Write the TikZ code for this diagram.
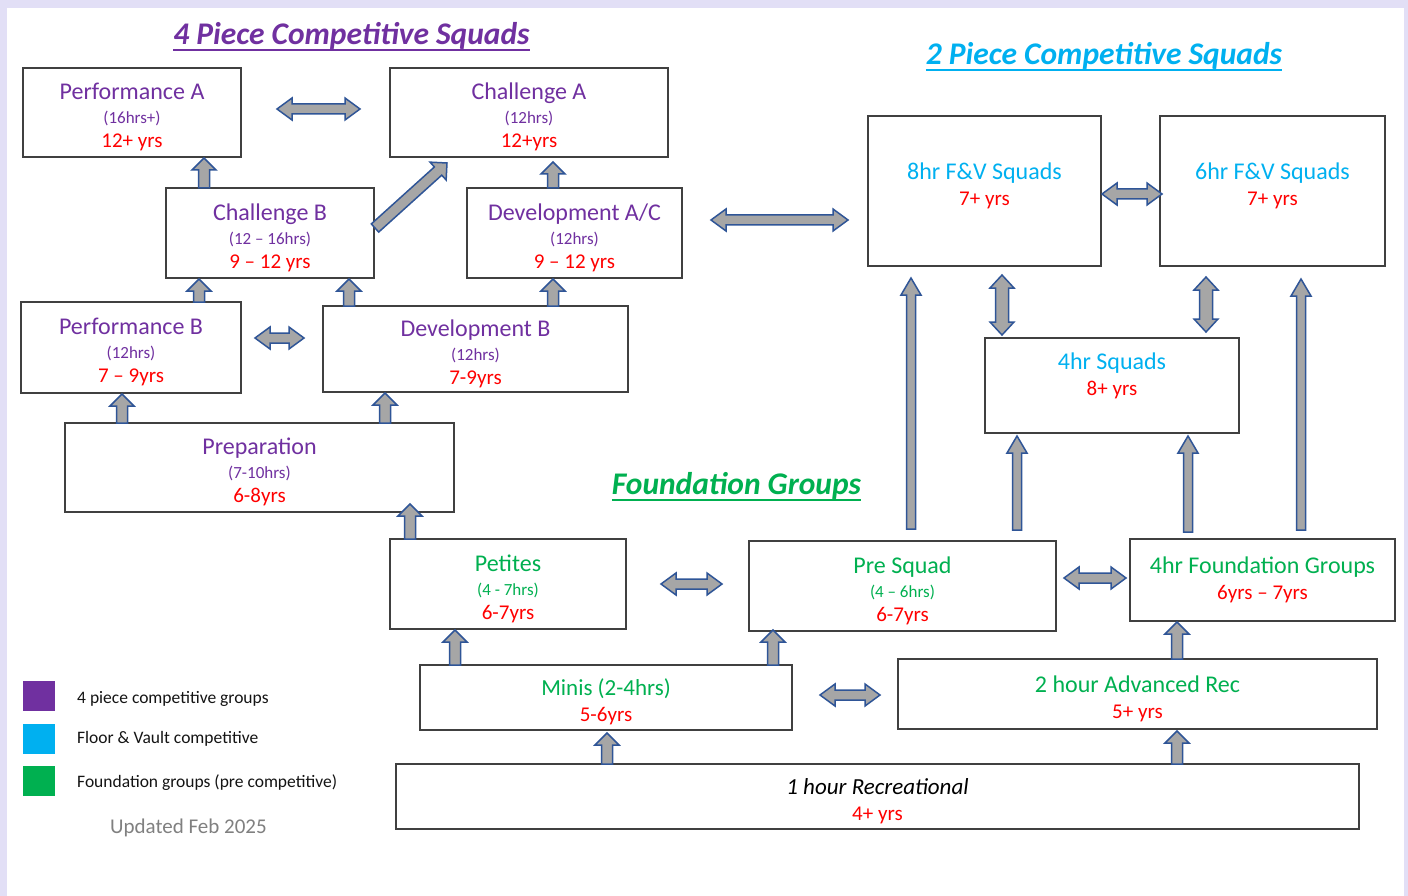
\documentclass[tikz,border=0pt]{standalone}
\usepackage{fontspec}
\setmainfont{Carlito}
\usetikzlibrary{calc}
\definecolor{pur}{RGB}{112,48,160}
\definecolor{fvblue}{RGB}{0,176,240}
\definecolor{fgreen}{RGB}{0,176,80}
\definecolor{agered}{RGB}{255,0,0}
\definecolor{arrfill}{RGB}{166,166,166}
\definecolor{arrline}{RGB}{47,85,151}
\definecolor{boxline}{RGB}{64,64,64}
\definecolor{lav}{RGB}{226,223,246}
\definecolor{updgray}{RGB}{128,128,128}
\definecolor{legtext}{RGB}{20,20,20}

\newcommand\ttl[1]{{\fontsize{24}{24}\selectfont\rule{0pt}{26pt}#1}}
\newcommand\ttlp[1]{{\fontsize{24}{24}\selectfont #1}}
\newcommand\hrs[1]{{\fontsize{17}{24}\selectfont #1}}
\newcommand\age[1]{{\fontsize{21}{24}\selectfont\color{agered}#1}}

% single block arrow: from, to, half shaft, half head, head length
\newcommand\sarr[5]{%
  \draw[blkarrow] let \p1=#1, \p2=#2, \n1={veclen(\x2-\x1,\y2-\y1)}, \n2={atan2(\y2-\y1,\x2-\x1)} in
    ($(\p1)+(\n2+90:#3)$) -- ($(\p1)+(\n2:\n1-#5)+(\n2+90:#3)$) -- ($(\p1)+(\n2:\n1-#5)+(\n2+90:#4)$) -- (\p2)
    -- ($(\p1)+(\n2:\n1-#5)+(\n2-90:#4)$) -- ($(\p1)+(\n2:\n1-#5)+(\n2-90:#3)$) -- ($(\p1)+(\n2-90:#3)$) -- cycle;}
% double block arrow
\newcommand\darr[5]{%
  \draw[blkarrow] let \p1=#1, \p2=#2, \n1={veclen(\x2-\x1,\y2-\y1)}, \n2={atan2(\y2-\y1,\x2-\x1)} in
    (\p1) -- ($(\p1)+(\n2:#5)+(\n2+90:#4)$) -- ($(\p1)+(\n2:#5)+(\n2+90:#3)$) -- ($(\p1)+(\n2:\n1-#5)+(\n2+90:#3)$)
    -- ($(\p1)+(\n2:\n1-#5)+(\n2+90:#4)$) -- (\p2) -- ($(\p1)+(\n2:\n1-#5)+(\n2-90:#4)$) -- ($(\p1)+(\n2:\n1-#5)+(\n2-90:#3)$)
    -- ($(\p1)+(\n2:#5)+(\n2-90:#3)$) -- ($(\p1)+(\n2:#5)+(\n2-90:#4)$) -- cycle;}
\newcommand\Sarr[2]{\sarr{#1}{#2}{5.5}{12}{12}}
\newcommand\Larr[2]{\sarr{#1}{#2}{4.5}{10}{17}}
\newcommand\Darr[2]{\darr{#1}{#2}{5}{11}{15}}
\newcommand\Varr[2]{\darr{#1}{#2}{6.5}{12}{13}}

\tikzset{
  box/.style={draw=boxline, line width=1.3pt, fill=white, inner sep=0pt, outer sep=0pt,
    align=center, font=\fontsize{21}{24}\selectfont},
  boxtwo/.style={box, font=\fontsize{21}{26}\selectfont},
  blkarrow/.style={fill=arrfill, draw=arrline, line width=1.5pt, line join=miter},
  sqtitle/.style={font=\fontsize{31.5}{33}\selectfont\bfseries\itshape, inner sep=0pt, outer sep=0pt, anchor=base},
  legsq/.style={minimum width=32, minimum height=30, inner sep=0pt, outer sep=0pt},
  legtxt/.style={font=\fontsize{17.5}{20}\selectfont, text=legtext, anchor=base west, inner sep=0pt},
}

\begin{document}
\begin{tikzpicture}[x=1pt,y=1pt]
\useasboundingbox (0,0) rectangle (1408,-896);
\fill[lav] (0,0) rectangle (1408,-896);
\fill[white] (7,-8) rectangle (1404,-896);

% titles
\node[sqtitle, text=pur] (t4) at (351.5,-45) {4 Piece Competitive Squads};
\draw[pur, line width=2pt] ([yshift=-5.5]t4.base west) -- ([yshift=-5.5]t4.base east);
\node[sqtitle, text=fvblue] (t2) at (1104,-65) {2 Piece Competitive Squads};
\draw[fvblue, line width=2pt] ([yshift=-5.5]t2.base west) -- ([yshift=-5.5]t2.base east);
\node[sqtitle, text=fgreen] (tF) at (736.5,-494) {Foundation Groups};
\draw[fgreen, line width=2pt] ([yshift=-5.5]tF.base west) -- ([yshift=-5.5]tF.base east);

% 4 piece boxes
\node[box, text=pur, minimum width=218, minimum height=89] (perfA) at (132,-112.5)
  {\ttl{Performance A}\\\hrs{(16hrs+)}\\\age{12+ yrs}};
\node[box, text=pur, minimum width=278, minimum height=89] (chA) at (529,-112.5)
  {\ttl{Challenge A}\\\hrs{(12hrs)}\\\age{12+yrs}};
\node[box, text=pur, minimum width=208, minimum height=90] (chB) at (270,-233)
  {\ttl{Challenge B}\\\hrs{(12 – 16hrs)}\\\age{9 – 12 yrs}};
\node[box, text=pur, minimum width=215, minimum height=90] (devAC) at (574.5,-233)
  {\ttl{Development A/C}\\\hrs{(12hrs)}\\\age{9 – 12 yrs}};
\node[box, text=pur, minimum width=220, minimum height=91] (perfB) at (131,-347.5)
  {\ttl{Performance B}\\\hrs{(12hrs)}\\\age{7 – 9yrs}};
\node[box, text=pur, minimum width=305, minimum height=86] (devB) at (475.5,-349)
  {\ttl{Development B}\\\hrs{(12hrs)}\\\age{7-9yrs}};
\node[box, text=pur, minimum width=389, minimum height=89] (prep) at (259.5,-467.5)
  {\ttl{Preparation}\\\hrs{(7-10hrs)}\\\age{6-8yrs}};

% foundation boxes
\node[box, text=fgreen, minimum width=236, minimum height=90] (petites) at (508,-584)
  {\ttl{Petites}\\\hrs{(4 - 7hrs)}\\\age{6-7yrs}};
\node[box, text=fgreen, minimum width=307, minimum height=90] (preSq) at (902.5,-586)
  {\ttl{Pre Squad}\\\hrs{(4 – 6hrs)}\\\age{6-7yrs}};
\node[boxtwo, text=fgreen, minimum width=265, minimum height=82] (fourFG) at (1262.5,-580)
  {\ttlp{4hr Foundation Groups}\\\age{6yrs – 7yrs}\\[-22pt]\mbox{}};
\node[boxtwo, text=fgreen, minimum width=372, minimum height=65] (minis) at (606,-697.5)
  {{\fontsize{23}{24}\selectfont\rule{0pt}{26pt}Minis (2-4hrs)}\\\age{5-6yrs}};
\node[boxtwo, text=fgreen, minimum width=479, minimum height=70] (twoHr) at (1137.5,-694)
  {\ttl{2 hour Advanced Rec}\\\age{5+ yrs}};
\node[boxtwo, text=black, minimum width=963, minimum height=65] (rec) at (877.5,-796.5)
  {{\fontsize{23}{24}\selectfont\itshape\rule{0pt}{26pt}1 hour Recreational}\\\age{4+ yrs}};

% 2 piece boxes
\node[boxtwo, text=fvblue, minimum width=233, minimum height=150] (eight) at (984.5,-191)
  {\ttl{8hr F\&V Squads}\\\age{7+ yrs}\\[-3pt]\mbox{}};
\node[boxtwo, text=fvblue, minimum width=225, minimum height=150] (six) at (1272.5,-191)
  {\ttl{6hr F\&V Squads}\\\age{7+ yrs}\\[-3pt]\mbox{}};
\node[boxtwo, text=fvblue, minimum width=254, minimum height=95] (fourSq) at (1112,-385.5)
  {\ttl{4hr Squads}\\\age{8+ yrs}\\[6pt]\mbox{}};

% single up arrows
\Sarr{($(chB.north)+(-66,0)$)}{($(perfA.south)+(72,-1)$)}
\Sarr{($(chB.east)+(1,5)$)}{($(chA.south west)+(57,-6)$)}
\Sarr{($(devAC.north)+(-21.5,0)$)}{($(chA.south)+(24,-5)$)}
\Sarr{($(perfB.north)+(68,0)$)}{($(chB.south)+(-71,-1)$)}
\Sarr{($(devB.north)+(-126.5,0)$)}{($(chB.south)+(79,-1)$)}
\Sarr{($(devB.north)+(77.5,0)$)}{($(devAC.south)+(-21.5,-1)$)}
\Sarr{($(prep.north)+(-137.5,0)$)}{($(perfB.south)+(-9,-1)$)}
\Sarr{($(prep.north)+(125.5,0)$)}{($(devB.south)+(-90.5,-1)$)}
\Sarr{($(petites.north)+(-98,0)$)}{($(prep.south)+(150.5,8)$)}
\Sarr{($(minis.north)+(-151,0)$)}{($(petites.south)+(-53,-1)$)}
\Sarr{($(minis.north)+(167,0)$)}{($(preSq.south)+(-129.5,1)$)}
\Sarr{($(rec.north)+(-270.5,0)$)}{($(minis.south)+(1,-3)$)}
\Sarr{($(rec.north)+(299.5,0)$)}{($(twoHr.south)+(39.5,-2)$)}
\Sarr{($(twoHr.north)+(39.5,0)$)}{($(fourFG.south)+(-85.5,-1)$)}

% long up arrows
\Larr{($(preSq.north)+(8.5,12)$)}{($(eight.south)+(-73.5,-12)$)}
\Larr{($(preSq.north)+(114.5,11)$)}{($(fourSq.south)+(-95,-3)$)}
\Larr{($(fourFG.north)+(-74.5,7)$)}{($(fourSq.south)+(76,-3)$)}
\Larr{($(fourFG.north)+(38.5,9)$)}{($(six.south)+(28.5,-13)$)}

% double arrows
\Darr{($(perfA.east)+(36,3.5)$)}{($(chA.west)+(-30,3.5)$)}
\Darr{($(devAC.east)+(29,13)$)}{($(eight.west)+(-20,-29)$)}
\Darr{($(eight.east)+(1,-3)$)}{($(six.west)+(2,-3)$)}
\Darr{($(perfB.east)+(14,9.5)$)}{($(devB.west)+(-19,11)$)}
\Darr{($(petites.east)+(35,0)$)}{($(preSq.west)+(-27,2)$)}
\Darr{($(preSq.east)+(8,8)$)}{($(fourFG.west)+(-4,2)$)}
\Darr{($(minis.east)+(28,2.5)$)}{($(twoHr.west)+(-18,-1)$)}
\Varr{($(eight.south)+(17.5,-9)$)}{($(fourSq.north)+(-110,3)$)}
\Varr{($(six.south)+(-66.5,-11)$)}{($(fourSq.north)+(94,6)$)}

% legend
\node[legsq, fill=pur] (lg1) at (39,-696) {};
\node[legsq, fill=fvblue] (lg2) at (39,-739) {};
\node[legsq, fill=fgreen] (lg3) at (39,-781) {};
\node[legtxt] (lt1) at (77,-703) {4 piece competitive groups};
\node[legtxt] (lt2) at (77,-743) {Floor \& Vault competitive};
\node[legtxt] (lt3) at (77,-787) {Foundation groups (pre competitive)};
\node[legtxt, text=updgray, font=\fontsize{21}{24}\selectfont] (upd) at (110,-833) {Updated Feb 2025};
\end{tikzpicture}
\end{document}
